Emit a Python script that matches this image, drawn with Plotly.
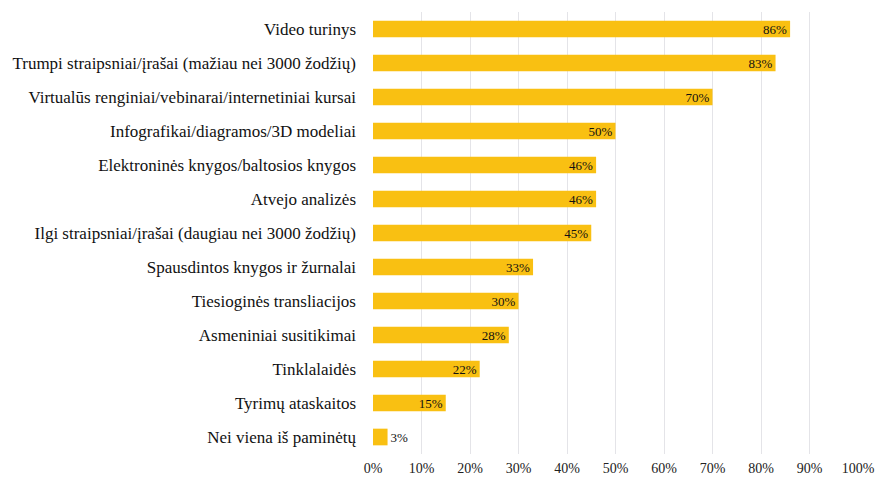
import plotly.graph_objects as go

categories = [
    "Video turinys",
    "Trumpi straipsniai/įrašai (mažiau nei 3000 žodžių)",
    "Virtualūs renginiai/vebinarai/internetiniai kursai",
    "Infografikai/diagramos/3D modeliai",
    "Elektroninės knygos/baltosios knygos",
    "Atvejo analizės",
    "Ilgi straipsniai/įrašai (daugiau nei 3000 žodžių)",
    "Spausdintos knygos ir žurnalai",
    "Tiesioginės transliacijos",
    "Asmeniniai susitikimai",
    "Tinklalaidės",
    "Tyrimų ataskaitos",
    "Nei viena iš paminėtų",
]
values = [0.86, 0.83, 0.70, 0.50, 0.46, 0.46, 0.45, 0.33, 0.30, 0.28, 0.22, 0.15, 0.03]
x_ticks = [i / 10 for i in range(11)]
x_tick_labels = [f"{i * 10}%" for i in range(11)]

FONT = "Liberation Serif, Times New Roman, serif"

# labels sit inside the bar end; the shortest bar is too narrow, so its label goes just past it
text_positions = ["inside" if v >= 0.1 else "outside" for v in values]

fig = go.Figure(
    go.Bar(
        y=categories,
        x=values,
        orientation="h",
        marker=dict(color="#F9C012", line=dict(width=0)),
        width=0.49,
        text=[f"{round(v * 100)}%" for v in values],
        textposition=text_positions,
        insidetextanchor="end",
        textangle=0,
        constraintext="none",
        cliponaxis=False,
        textfont=dict(family=FONT, size=13, color="#111111"),
    )
)

fig.update_layout(
    width=875,
    height=477,
    margin=dict(l=373, r=17, t=12, b=23),
    paper_bgcolor="white",
    plot_bgcolor="white",
    showlegend=False,
    bargap=0.5,
)

fig.update_xaxes(
    range=[0, 1.0],
    tickvals=x_ticks,
    ticktext=x_tick_labels,
    showgrid=True,
    gridcolor="#E4E4E8",
    gridwidth=1,
    zeroline=False,
    showline=False,
    automargin=False,
    ticklabelstandoff=4,
    tickfont=dict(family=FONT, size=14, color="#222222"),
    ticks="",
)

fig.update_yaxes(
    categoryorder="array",
    categoryarray=categories[::-1],
    showgrid=False,
    zeroline=False,
    showline=False,
    automargin=False,
    ticks="",
    ticklabelstandoff=16,
    tickfont=dict(family=FONT, size=17, color="#111111"),
)

fig.write_html("out.html")
